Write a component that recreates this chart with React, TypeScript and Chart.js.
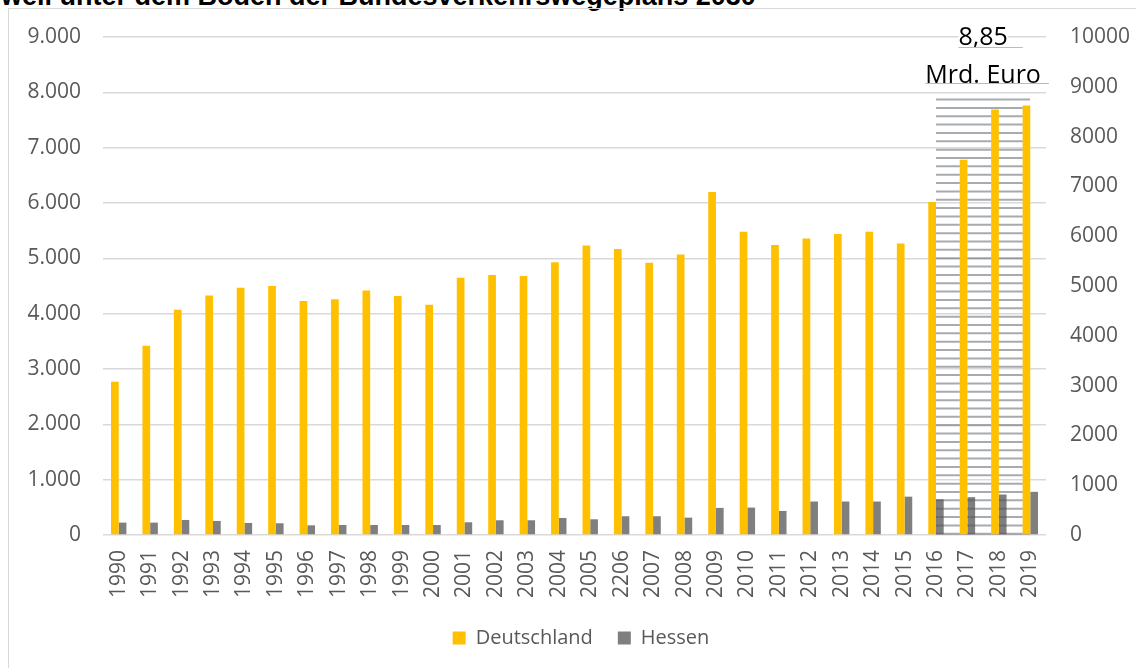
import React, { useEffect, useRef } from "react";
import { Chart, registerables } from "chart.js";

Chart.register(...registerables);

const years = [
  "1990", "1991", "1992", "1993", "1994", "1995", "1996", "1997", "1998", "1999",
  "2000", "2001", "2002", "2003", "2004", "2005", "2206", "2007", "2008", "2009",
  "2010", "2011", "2012", "2013", "2014", "2015", "2016", "2017", "2018", "2019",
];

const deutschland = [
  2770, 3420, 4070, 4330, 4470, 4500, 4230, 4260, 4420, 4320,
  4160, 4650, 4700, 4680, 4930, 5230, 5170, 4920, 5070, 6200,
  5480, 5240, 5360, 5440, 5480, 5270, 6020, 6780, 7690, 7760,
];

const hessen = [
  224, 224, 272, 254, 218, 212, 175, 181, 181, 181,
  181, 230, 266, 266, 308, 284, 339, 339, 314, 490,
  496, 435, 605, 605, 605, 693, 645, 684, 732, 780,
];

const seriesNames = ["Deutschland", "Hessen"];
const titleText = "weil unter dem Boden der Bundesverkehrswegeplans 2030";
const annotationLines = ["8,85", "Mrd. Euro"];
const hatchFromYear = "2016";
const hatchToYear = "2019";
const hatchTopValue = 7870;

const FONT = '"Open Sans", "Noto Sans", sans-serif';

const hatchPlugin = {
  id: "hatchNote",
  afterDatasetsDraw(chart: any) {
    const { ctx, scales } = chart;
    const x = scales.x;
    const y = scales.y;
    const i0 = years.indexOf(hatchFromYear);
    const i1 = years.indexOf(hatchToYear);
    const x0 = x.getPixelForValue(i0);
    const x1 = x.getPixelForValue(i1);
    const top = y.getPixelForValue(hatchTopValue);
    const bottom = y.getPixelForValue(0);
    ctx.save();
    ctx.beginPath();
    ctx.rect(x0, top - 2, x1 - x0, bottom - top + 2);
    const meta = chart.getDatasetMeta(0);
    meta.data.forEach((bar: any, idx: number) => {
      if (idx < i0 || idx > i1) return;
      const p = bar.getProps(["x", "y", "base", "width"], true);
      ctx.rect(p.x - p.width / 2, p.y, p.width, p.base - p.y);
    });
    ctx.clip("evenodd");
    ctx.strokeStyle = "rgba(80,85,95,0.5)";
    ctx.lineWidth = 2;
    for (let yy = top; yy < bottom; yy += 8.35) {
      ctx.beginPath();
      ctx.moveTo(x0, yy);
      ctx.lineTo(x1, yy);
      ctx.stroke();
    }
    ctx.restore();
  },
  afterDraw(chart: any) {
    const { ctx, scales, chartArea } = chart;
    const x = scales.x;
    const i0 = years.indexOf(hatchFromYear);
    const i1 = years.indexOf(hatchToYear);
    const cx = (x.getPixelForValue(i0) + x.getPixelForValue(i1)) / 2;
    ctx.save();
    ctx.font = `25px ${FONT}`;
    ctx.textAlign = "center";
    ctx.textBaseline = "alphabetic";
    const w1 = ctx.measureText(annotationLines[0]).width;
    const w2 = ctx.measureText(annotationLines[1]).width;
    const b1 = chartArea.top + 8;
    const b2 = chartArea.top + 45.5;
    ctx.fillStyle = "#ffffff";
    ctx.fillRect(cx - w1 / 2, b1 - 18, w1, 20);
    ctx.fillStyle = "#000000";
    ctx.fillText(annotationLines[0], cx, b1);
    ctx.fillText(annotationLines[1], cx, b2);
    ctx.strokeStyle = "#f2a3a3";
    ctx.lineWidth = 1;
    ctx.beginPath();
    ctx.moveTo(cx - w1 / 2, b1 + 2.5);
    ctx.lineTo(cx + w1 / 2 + 15, b1 + 2.5);
    ctx.moveTo(cx - w2 / 2, b2 + 1);
    ctx.lineTo(cx + w2 / 2 + 8, b2 + 1);
    ctx.stroke();
    ctx.restore();
  },
};

export default function App() {
  const canvasRef = useRef<HTMLCanvasElement | null>(null);

  useEffect(() => {
    if (!canvasRef.current) return;
    const tickFont = { family: FONT, size: 21 };
    const chart = new Chart(canvasRef.current, {
      type: "bar",
      data: {
        labels: years,
        datasets: [
          {
            label: seriesNames[0],
            data: deutschland,
            backgroundColor: "#FFC000",
            yAxisID: "y",
            categoryPercentage: 0.49,
            barPercentage: 1.0,
          },
          {
            label: seriesNames[1],
            data: hessen,
            backgroundColor: "#7F7F7F",
            yAxisID: "y",
            categoryPercentage: 0.49,
            barPercentage: 1.0,
          },
        ],
      },
      options: {
        animation: false,
        responsive: false,
        maintainAspectRatio: false,
        devicePixelRatio: 1,
        layout: { padding: { top: 37, left: 26, right: 0, bottom: 10 } },
        plugins: {
          legend: {
            position: "bottom",
            labels: {
              boxWidth: 13,
              boxHeight: 13,
              padding: 25,
              color: "#595959",
              font: { family: FONT, size: 20 },
            },
          },
          tooltip: { enabled: false },
          title: { display: false },
        },
        scales: {
          x: {
            grid: { display: false, drawTicks: false },
            border: { display: false },
            ticks: {
              color: "#595959",
              font: tickFont,
              minRotation: 90,
              maxRotation: 90,
              padding: 15,
              autoSkip: false,
            },
            afterFit(scale: any) {
              scale.height = 68;
            },
          },
          y: {
            position: "left",
            min: 0,
            max: 9000,
            grid: { color: "#d9d9d9", lineWidth: 1.5, drawTicks: false },
            border: { display: false },
            ticks: {
              stepSize: 1000,
              color: "#595959",
              font: tickFont,
              padding: 22,
              callback: (v: any) => Number(v).toLocaleString("de-DE"),
            },
            afterFit(scale: any) {
              scale.width = 77;
            },
          },
          y1: {
            position: "right",
            display: true,
            min: 0,
            max: 10000,
            grid: { display: false, drawTicks: false },
            border: { display: false },
            ticks: {
              stepSize: 1000,
              color: "#595959",
              font: tickFont,
              padding: 24,
              callback: (v: any) => String(v),
            },
            afterFit(scale: any) {
              scale.width = 90;
            },
          },
        },
      } as any,
      plugins: [hatchPlugin],
    });
    return () => chart.destroy();
  }, []);

  return (
    <div
      style={{
        position: "fixed",
        left: 0,
        top: 0,
        width: 1136,
        height: 668,
        overflow: "hidden",
        background: "#ffffff",
      }}
    >
      <div
        style={{
          position: "absolute",
          left: 1,
          top: -18.5,
          font: 'bold 27px "Liberation Sans", Arial, sans-serif',
          color: "#000",
          whiteSpace: "nowrap",
          lineHeight: "28px",
        }}
      >
        {titleText}
      </div>
      <div
        style={{
          position: "absolute",
          left: 8,
          top: 8,
          width: 1400,
          height: 900,
          border: "1.5px solid #d9d9d9",
          boxSizing: "border-box",
        }}
      />
      <canvas
        ref={canvasRef}
        width={1136}
        height={668}
        style={{ position: "absolute", left: 0, top: 0, width: 1136, height: 668 }}
      />
    </div>
  );
}
